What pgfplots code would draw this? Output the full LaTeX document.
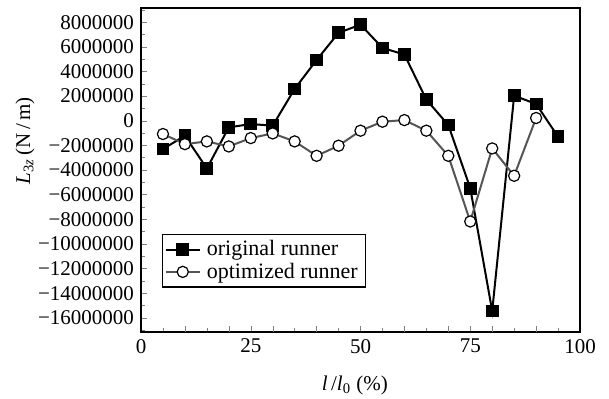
\documentclass[border=0pt]{standalone}
\usepackage{fontspec}
\setmainfont{Liberation Serif}
\usepackage{pgfplots}
\pgfplotsset{compat=1.18}
\definecolor{optgray}{RGB}{85,85,85}
\begin{document}
\begin{tikzpicture}[font=\fontsize{10.5}{12}\selectfont]
\useasboundingbox (0,0) rectangle (304.5pt,199.5pt);
\begin{axis}[
  at={(70.5pt,33.5pt)}, anchor=south west,
  width=219.5pt, height=162pt, scale only axis,
  xmin=0, xmax=100, ymin=-17150000, ymax=9150000,
  tick pos=left, tick align=inside,
  major tick length=3pt, minor tick length=2pt,
  xtick={0,25,50,75,100},
  minor xtick={5,15,35,45,55,65,85,95},
  extra x ticks={10,20,30,40,60,70,80,90},
  extra x tick labels={},
  extra x tick style={grid=none},
  ytick={-16000000,-14000000,-12000000,-10000000,-8000000,-6000000,-4000000,-2000000,0,2000000,4000000,6000000,8000000},
  yticklabels={−16000000,−14000000,−12000000,−10000000,−8000000,−6000000,−4000000,−2000000,0,2000000,4000000,6000000,8000000},
  minor ytick={-17000000,-15000000,-13000000,-11000000,-9000000,-7000000,-5000000,-3000000,-1000000,1000000,3000000,5000000,7000000,9000000},
  scaled y ticks=false,
  /pgf/number format/assume math mode=true,
  axis line style={line width=0.6pt},
  every axis y label/.style={at={(axis description cs:-0.264,0.59)},rotate=90,anchor=center},
  every axis x label/.style={at={(axis description cs:0.487,-0.164)},anchor=center},
  ylabel={\textit{L}\textsubscript{3\textit{z}}\,(N\,/\,m)},
  xlabel={\textit{l}\,/\textit{l}\textsubscript{0} (\%)},
  legend style={at={(0.048,0.137)}, anchor=south west, draw=black, line width=0.6pt, inner sep=1pt, row sep=-2pt, font=\fontsize{11}{12}\selectfont, nodes={inner xsep=3pt}},
  legend cell align=left,
]
\addplot[black, line width=1pt, mark=square*, mark size=2.7pt, mark options={solid, fill=black}] coordinates {
(5,-2300000) (10,-1220000) (15,-3880000) (20,-540000) (25,-270000) (30,-400000)
(35,2580000) (40,4930000) (45,7130000) (50,7800000) (55,5910000) (60,5370000)
(65,1710000) (70,-350000) (75,-5470000) (80,-15450000) (85,2030000) (90,1360000) (95,-1300000)
};
\addlegendentry{original runner}
\addplot[optgray, line width=1pt, mark=*, mark size=2.8pt, mark options={solid, fill=white, draw=black, line width=0.6pt}] coordinates {
(5,-1080000) (10,-1900000) (15,-1680000) (20,-2090000) (25,-1410000) (30,-1030000)
(35,-1680000) (40,-2850000) (45,-2030000) (50,-810000) (55,-80000) (60,50000)
(65,-810000) (70,-2850000) (75,-8180000) (80,-2250000) (85,-4470000) (90,220000)
};
\addlegendentry{optimized runner}
\end{axis}
\end{tikzpicture}
\end{document}
